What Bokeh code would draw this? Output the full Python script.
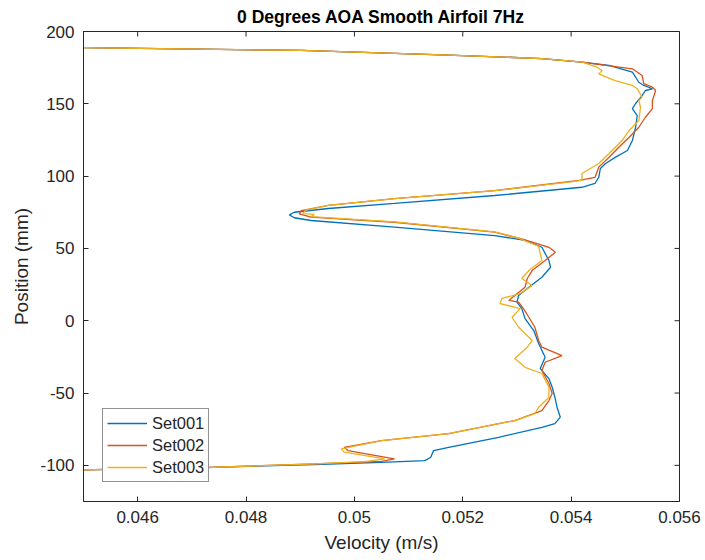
import math
from bokeh.plotting import figure
from bokeh.models import Range1d, FixedTicker, Legend, LegendItem
from bokeh.embed import file_html
from bokeh.resources import INLINE

title_text = "0 Degrees AOA Smooth Airfoil 7Hz"
x_label = "Velocity (m/s)"
y_label = "Position (mm)"
x_ticks = [0.046, 0.048, 0.050, 0.052, 0.054, 0.056]
x_tick_labels = ["0.046", "0.048", "0.05", "0.052", "0.054", "0.056"]
y_ticks = [-100, -50, 0, 50, 100, 150, 200]
y_tick_labels = ["-100", "-50", "0", "50", "100", "150", "200"]
x_min, x_max = 0.045, 0.056
y_min, y_max = -125, 200
series_names = ["Set001", "Set002", "Set003"]
series_colors = ["#0072BD", "#D95319", "#EDB120"]

set001_v = [0.04470, 0.04902, 0.05161, 0.05346, 0.05420, 0.05470, 0.05513, 0.05525, 0.05534, 0.05550,
            0.05537, 0.05531, 0.05519, 0.05513, 0.05522, 0.05519, 0.05513, 0.05504, 0.05482, 0.05463,
            0.05454, 0.05451, 0.05444, 0.05420, 0.05259, 0.05074, 0.04952, 0.04889, 0.04880, 0.04889,
            0.04920, 0.05074, 0.05259, 0.05315, 0.05346, 0.05359, 0.05362, 0.05346, 0.05322, 0.05303,
            0.05300, 0.05309, 0.05315, 0.05331, 0.05340, 0.05352, 0.05343, 0.05359, 0.05365, 0.05370,
            0.05374, 0.05380, 0.05370, 0.05346, 0.05266, 0.05174, 0.05146, 0.05141, 0.05130, 0.05050,
            0.04926, 0.04741, 0.04470]
set001_y = [189.0, 186.9, 183.9, 181.3, 178.8, 176.5, 171.9, 164.9, 162.7, 160.4,
            159.2, 155.7, 150.2, 146.7, 141.9, 133.8, 124.6, 117.7, 113.1, 108.5,
            105.3, 99.2, 94.9, 92.3, 86.6, 81.1, 77.6, 75.0, 73.2, 71.2,
            69.3, 64.7, 58.9, 55.5, 50.8, 41.6, 37.0, 30.1, 23.2, 17.4,
            12.8, 8.4, 1.5, -6.8, -15.8, -25.2, -33.1, -40.0, -46.0, -52.9,
            -59.8, -66.7, -71.1, -73.7, -80.6, -87.5, -89.8, -94.4, -96.7, -97.9,
            -99.4, -101.3, -103.3]

set002_v = [0.04470, 0.04902, 0.05161, 0.05346, 0.05420, 0.05513, 0.05531, 0.05534, 0.05550, 0.05556,
            0.05550, 0.05550, 0.05537, 0.05525, 0.05507, 0.05488, 0.05470, 0.05451, 0.05444, 0.05415,
            0.05259, 0.05074, 0.04952, 0.04902, 0.04898, 0.04920, 0.05074, 0.05259, 0.05309, 0.05359,
            0.05371, 0.05352, 0.05328, 0.05319, 0.05315, 0.05296, 0.05285, 0.05303, 0.05312, 0.05322,
            0.05333, 0.05340, 0.05346, 0.05383, 0.05352, 0.05346, 0.05359, 0.05365, 0.05359, 0.05346,
            0.05296, 0.05174, 0.05050, 0.04981, 0.04988, 0.05074, 0.05050, 0.04926, 0.04741, 0.04470]
set002_y = [189.0, 186.9, 183.9, 181.3, 178.8, 174.2, 169.6, 164.0, 161.5, 159.2,
            152.3, 146.7, 140.7, 133.8, 126.9, 120.0, 113.1, 106.2, 99.2, 97.0,
            90.0, 84.5, 79.7, 76.2, 73.9, 71.6, 68.1, 61.2, 56.6, 50.8,
            47.4, 41.6, 34.7, 29.2, 23.2, 17.4, 14.0, 12.8, 8.4, 2.4,
            -4.5, -13.7, -18.3, -24.1, -28.7, -34.4, -43.4, -50.3, -55.2, -62.1,
            -69.0, -78.0, -82.9, -87.5, -89.8, -95.5, -97.2, -99.0, -101.3, -103.3]

set003_v = [0.04470, 0.04902, 0.05161, 0.05346, 0.05420, 0.05448, 0.05457, 0.05451, 0.05481, 0.05513,
            0.05522, 0.05531, 0.05525, 0.05528, 0.05525, 0.05507, 0.05494, 0.05470, 0.05451, 0.05420,
            0.05420, 0.05400, 0.05259, 0.05074, 0.04952, 0.04910, 0.04905, 0.04926, 0.04920, 0.05074,
            0.05259, 0.05300, 0.05340, 0.05346, 0.05322, 0.05309, 0.05328, 0.05306, 0.05272, 0.05269,
            0.05306, 0.05291, 0.05303, 0.05328, 0.05319, 0.05296, 0.05315, 0.05346, 0.05359, 0.05359,
            0.05340, 0.05333, 0.05296, 0.05174, 0.05050, 0.04976, 0.04981, 0.05056, 0.05019, 0.04926,
            0.04741, 0.04470]
set003_y = [189.0, 186.9, 183.9, 181.3, 178.8, 175.3, 173.0, 170.7, 166.1, 162.7,
            160.4, 154.6, 152.3, 147.6, 138.5, 131.5, 124.6, 115.6, 108.7, 101.8,
            97.0, 96.0, 90.0, 84.5, 79.7, 76.5, 74.0, 73.5, 72.0, 68.3,
            61.5, 57.5, 51.5, 41.6, 34.7, 29.2, 24.3, 18.8, 15.4, 11.9,
            8.4, 2.4, -4.5, -13.7, -18.3, -26.1, -32.2, -36.5, -46.0, -52.9,
            -59.8, -64.2, -69.0, -78.0, -82.9, -88.6, -90.9, -95.5, -97.4, -99.0,
            -101.3, -103.3]

AX = "#262626"
FONT = "Liberation Sans"

p = figure(width=705, height=560, output_backend="svg", toolbar_location=None,
           x_range=Range1d(x_min, x_max), y_range=Range1d(y_min, y_max),
           min_border_left=83, min_border_right=26, min_border_top=31, min_border_bottom=59,
           title=title_text)
p.title.align = "center"
p.title.text_font = FONT
p.title.text_font_size = "17.5px"
p.title.text_font_style = "bold"
p.title.text_color = "#000000"
p.title.standoff = 9
p.xgrid.visible = False
p.ygrid.visible = False
p.outline_line_color = AX
p.outline_line_width = 1
p.background_fill_color = "white"
p.border_fill_color = "white"


def style_axis(ax, ticks, labels):
    ax.ticker = FixedTicker(ticks=ticks)
    ax.major_label_overrides = {t: l for t, l in zip(ticks, labels)}
    ax.major_tick_in = 5
    ax.major_tick_out = 0
    ax.minor_tick_line_color = None
    ax.major_tick_line_color = AX
    ax.axis_line_color = AX
    ax.major_label_text_font = FONT
    ax.major_label_text_color = AX
    ax.major_label_text_font_size = "17px"
    ax.major_label_standoff = 9
    ax.axis_label_text_font = FONT
    ax.axis_label_text_font_size = "19px"
    ax.axis_label_text_font_style = "normal"
    ax.axis_label_text_color = AX


style_axis(p.xaxis[0], x_ticks, x_tick_labels)
p.xaxis[0].axis_label = x_label
p.xaxis[0].axis_label_standoff = 6
style_axis(p.yaxis[0], y_ticks, y_tick_labels)
p.yaxis[0].axis_label = y_label
p.yaxis[0].axis_label_standoff = 5

# inward tick marks on the top and right edges of the box (half of each dash is clipped away)
p.scatter(x_ticks, [y_max] * len(x_ticks), marker="dash", angle=math.pi / 2, size=10,
          line_color=AX, line_width=1)
p.scatter([x_max] * len(y_ticks), y_ticks, marker="dash", size=10, line_color=AX, line_width=1)

renderers = []
for v, y, c in zip([set001_v, set002_v, set003_v], [set001_y, set002_y, set003_y], series_colors):
    r = p.line(v, y, line_color=c, line_width=1.3)
    renderers.append(r)

legend = Legend(items=[LegendItem(label=n, renderers=[r]) for n, r in zip(series_names, renderers)],
                location=(19, 19), label_text_font=FONT, label_text_font_size="16.5px",
                label_text_color=AX, border_line_color=AX, border_line_width=1,
                background_fill_color="white", background_fill_alpha=1.0,
                padding=4, spacing=2, label_height=20, glyph_height=20, glyph_width=40,
                label_standoff=5, margin=0)
p.add_layout(legend)

open("out.html", "w").write(file_html(p, INLINE))
